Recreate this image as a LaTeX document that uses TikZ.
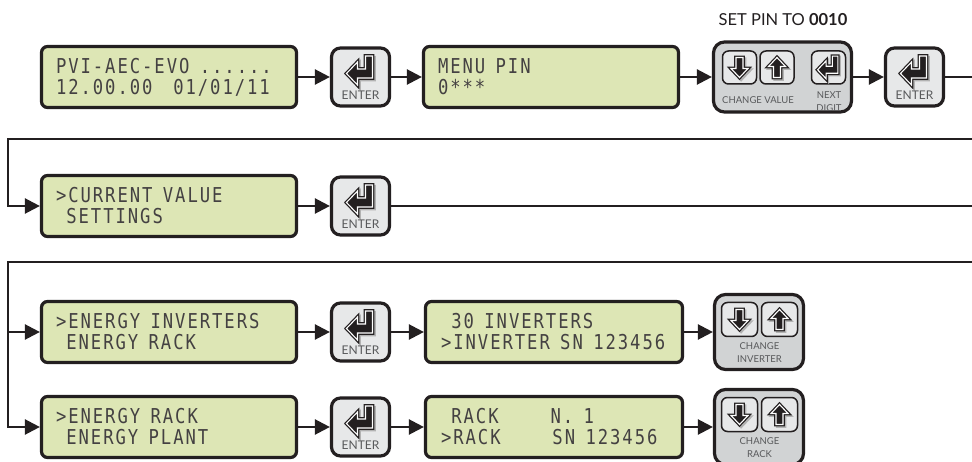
\documentclass[tikz,border=0pt]{standalone}
\usepackage{fontspec}
\newfontfamily\lcdfont{DejaVu Sans Mono}[FakeStretch=0.84, LetterSpace=9.5]
\newfontfamily\keyfont{Lato}
\usetikzlibrary{arrows.meta, calc}

\definecolor{ink}{RGB}{35,31,32}
\definecolor{lcdgreen}{RGB}{221,230,181}
\definecolor{keygray}{RGB}{231,232,233}
\definecolor{padgray}{RGB}{209,211,212}
\definecolor{labelgray}{RGB}{88,89,91}

\newcommand{\blank}{\phantom{0}}
\newcommand{\lcdtext}{\lcdfont\fontsize{20.5}{21}\selectfont}

\tikzset{
    icon/.style={fill=ink, draw=white, line width=1.1pt, line join=miter, preaction={draw=ink, line width=3.6pt}},
    iconshadow/.style={fill=black!30, draw=black!30, line width=3.6pt, line join=miter, shift={(1.6,1.6)}},
    pics/entericon/.style={code={
        \path[iconshadow] (12,-21) -- (12,1) -- (-3,1) -- (-3,8) -- (-14,-3.5) -- (-3,-15) -- (-3,-8) -- (5,-8) -- (5,-21) -- cycle;
        \path[icon] (12,-21) -- (12,1) -- (-3,1) -- (-3,8) -- (-14,-3.5) -- (-3,-15) -- (-3,-8) -- (5,-8) -- (5,-21) -- cycle;
    }},
    pics/downicon/.style={code={
        \path[iconshadow] (-3.5,-10) -- (3.5,-10) -- (3.5,1) -- (8.5,1) -- (0,10) -- (-8.5,1) -- (-3.5,1) -- cycle;
        \path[icon] (-3.5,-10) -- (3.5,-10) -- (3.5,1) -- (8.5,1) -- (0,10) -- (-8.5,1) -- (-3.5,1) -- cycle;
    }},
    pics/upicon/.style={code={
        \path[iconshadow] (-3.5,10) -- (3.5,10) -- (3.5,-1) -- (8.5,-1) -- (0,-10) -- (-8.5,-1) -- (-3.5,-1) -- cycle;
        \path[icon] (-3.5,10) -- (3.5,10) -- (3.5,-1) -- (8.5,-1) -- (0,-10) -- (-8.5,-1) -- (-3.5,-1) -- cycle;
    }}
}

\begin{document}
\begin{tikzpicture}[x=1pt, y=-1pt,
        lcd/.style={rectangle, draw=ink, line width=3.2pt, fill=lcdgreen, rounded corners=6pt, minimum width=255pt, minimum height=61pt, text width=226pt, inner xsep=14.5pt, align=left, text=ink!85, font=\lcdtext},
        enterkey/.style={rectangle, draw=ink, line width=3.2pt, fill=keygray, rounded corners=9pt, minimum width=58pt, minimum height=58pt, inner sep=0pt},
        keypad/.style={rectangle, draw=ink, line width=3.2pt, fill=padgray, rounded corners=11pt, inner sep=0pt},
        smallkey/.style={rectangle, draw=ink, line width=1.5pt, fill=keygray, rounded corners=6pt, minimum width=34pt, minimum height=33pt, inner sep=0pt},
        keylabel/.style={font=\keyfont\fontsize{12}{12}\selectfont, text=labelgray, inner sep=0pt},
        padlabel/.style={font=\keyfont\fontsize{9.5}{13}\selectfont, text=labelgray, align=center, inner sep=0pt},
        flow/.style={line width=2.4pt, draw=ink, -{Triangle[length=15pt, width=15pt]}},
        rule/.style={line width=2.4pt, draw=ink}
    ]
        \useasboundingbox (0,0) rectangle (972,462);

        % ----------------------------------------------------
        % ROW 1: START SCREEN AND PIN ENTRY
        % ----------------------------------------------------
        \node[lcd] (start) at (169,77) {PVI-AEC-EVO\blank......\\12.00.00\blank\blank 01/01/11};
        \node[enterkey] (enterA) at (360.5,77) {};
        \pic at (enterA) {entericon};
        \node[keylabel] (enterAtxt) at ($(enterA)+(0,18)$) {ENTER};

        \node[lcd] (pinMenu) at (551,77) {MENU\blank PIN\\0***};

        \node[keypad, minimum width=138pt, minimum height=70pt] (pinPad) at (782.5,77) {};
        \node[smallkey] (pinDown) at ($(pinPad)+(-43,-9.5)$) {};
        \node[smallkey] (pinUp) at ($(pinPad)+(-5.5,-9.5)$) {};
        \node[smallkey] (pinNext) at ($(pinPad)+(46,-9.5)$) {};
        \pic at (pinDown) {downicon};
        \pic at (pinUp) {upicon};
        \pic[scale=0.78] at ($(pinNext)+(0,5)$) {entericon};
        \node[padlabel] (pinChange) at ($(pinPad)+(-24.5,23)$) {CHANGE VALUE};
        \node[padlabel] (pinNextTxt) at ($(pinPad)+(46.5,25)$) {NEXT\\DIGIT};
        \node[font=\keyfont\fontsize{16.5}{16.5}\selectfont, text=ink, inner sep=0pt] (pinHint) at (783,20) {SET PIN TO \textbf{0010}};

        \node[enterkey] (enterB) at (914.5,77) {};
        \pic at (enterB) {entericon};
        \node[keylabel] (enterBtxt) at ($(enterB)+(0,18)$) {ENTER};
        \coordinate (exitA) at (972,77);

        \draw[flow] (start) -- (enterA);
        \draw[flow] (enterA) -- (pinMenu);
        \draw[flow] (pinMenu) -- (pinPad);
        \draw[flow] (pinPad) -- (enterB);
        \draw[rule] (enterB) -- (exitA);

        % ----------------------------------------------------
        % ROW 2: CURRENT VALUE SETTINGS
        % ----------------------------------------------------
        \coordinate (wrapA) at (972,139);
        \coordinate (turnA) at (8,139);
        \node[lcd] (curValue) at (169,206) {>CURRENT\blank VALUE\\\blank SETTINGS};
        \node[enterkey] (enterC) at (360.5,206) {};
        \pic at (enterC) {entericon};
        \node[keylabel] (enterCtxt) at ($(enterC)+(0,18)$) {ENTER};
        \coordinate (exitB) at (972,206);

        \draw[flow] (wrapA) -- (turnA) |- (curValue);
        \draw[flow] (curValue) -- (enterC);
        \draw[rule] (enterC) -- (exitB);

        % ----------------------------------------------------
        % ROWS 3-4: ENERGY INVERTERS / ENERGY RACK
        % ----------------------------------------------------
        \coordinate (wrapB) at (972,262);
        \coordinate (turnB) at (8,262);

        % Inverters
        \node[lcd] (energyInv) at (169,332) {>ENERGY\blank INVERTERS\\\blank ENERGY\blank RACK};
        \node[enterkey] (enterD) at (360.5,332) {};
        \pic at (enterD) {entericon};
        \node[keylabel] (enterDtxt) at ($(enterD)+(0,18)$) {ENTER};
        \node[lcd, minimum width=257pt] (invList) at (554,332) {\blank 30\blank INVERTERS\\>INVERTER\blank SN\blank 123456};
        \node[keypad, minimum width=89pt, minimum height=75pt] (invPad) at (759,332) {};
        \node[smallkey, minimum width=36pt, minimum height=34pt] (invDown) at ($(invPad)+(-19.5,-12.5)$) {};
        \node[smallkey, minimum width=36pt, minimum height=34pt] (invUp) at ($(invPad)+(20.5,-12.5)$) {};
        \pic at (invDown) {downicon};
        \pic at (invUp) {upicon};
        \node[padlabel] (invTxt) at ($(invPad)+(0.5,20.5)$) {CHANGE\\INVERTER};

        % Rack
        \node[lcd] (energyRack) at (169,427) {>ENERGY\blank RACK\\\blank ENERGY\blank PLANT};
        \node[enterkey] (enterE) at (360.5,427) {};
        \pic at (enterE) {entericon};
        \node[keylabel] (enterEtxt) at ($(enterE)+(0,18)$) {ENTER};
        \node[lcd, minimum width=257pt] (rackList) at (554,427) {\blank RACK\blank\blank\blank\blank\blank N.\blank 1\\>RACK\blank\blank\blank\blank\blank SN\blank 123456};
        \node[keypad, minimum width=89pt, minimum height=75pt] (rackPad) at (759,427) {};
        \node[smallkey, minimum width=36pt, minimum height=34pt] (rackDown) at ($(rackPad)+(-19.5,-12.5)$) {};
        \node[smallkey, minimum width=36pt, minimum height=34pt] (rackUp) at ($(rackPad)+(20.5,-12.5)$) {};
        \pic at (rackDown) {downicon};
        \pic at (rackUp) {upicon};
        \node[padlabel] (rackTxt) at ($(rackPad)+(0.5,20.5)$) {CHANGE\\RACK};

        \draw[flow] (wrapB) -- (turnB) |- (energyInv);
        \draw[flow] (turnB) |- (energyRack);
        \draw[flow] (energyInv) -- (enterD);
        \draw[flow] (enterD) -- (invList);
        \draw[flow] (invList) -- (invPad);
        \draw[flow] (energyRack) -- (enterE);
        \draw[flow] (enterE) -- (rackList);
        \draw[flow] (rackList) -- (rackPad);

    \end{tikzpicture}
\end{document}
